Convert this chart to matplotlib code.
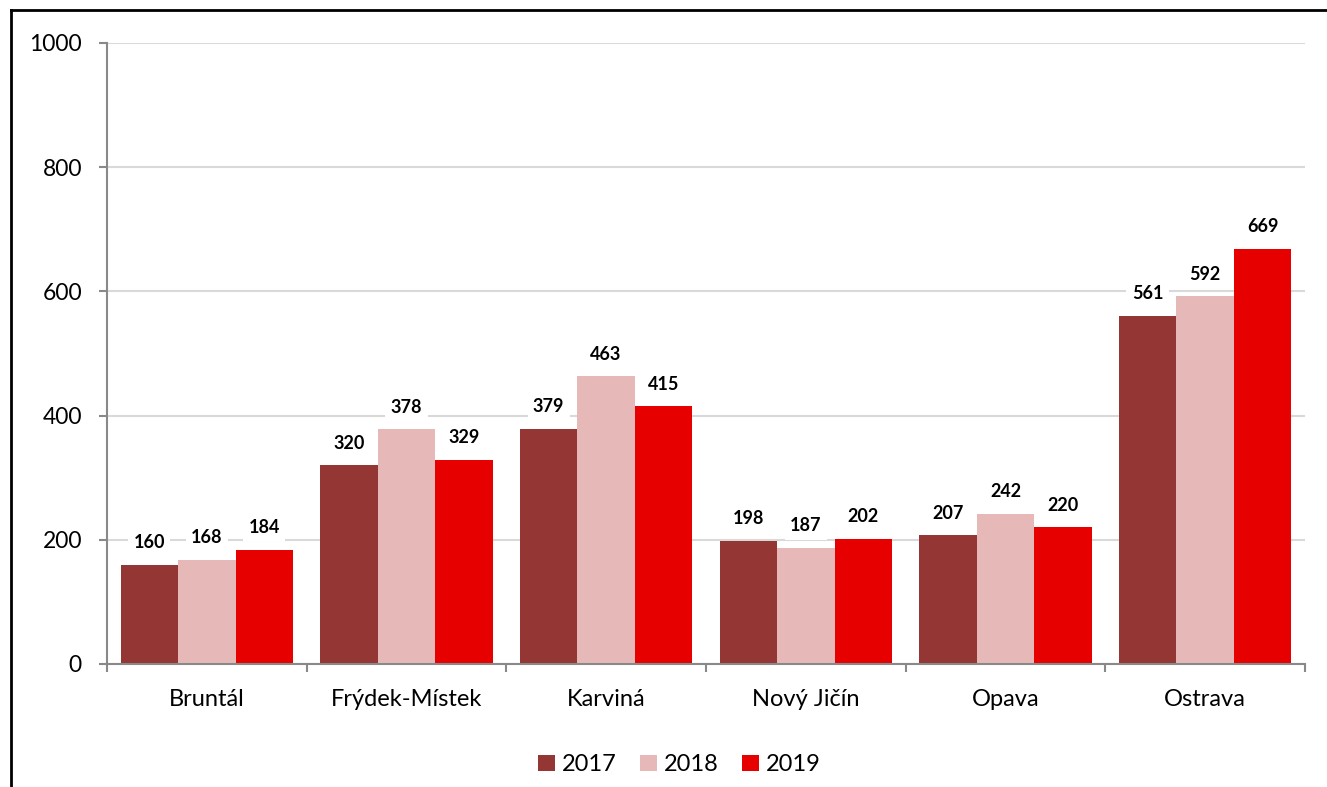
import numpy as np
import matplotlib
matplotlib.use("Agg")
import matplotlib.pyplot as plt
from matplotlib.lines import Line2D

categories = ["Bruntál", "Frýdek-Místek", "Karviná", "Nový Jičín", "Opava", "Ostrava"]
years = ["2017", "2018", "2019"]
v2017 = [160, 320, 379, 198, 207, 561]
v2018 = [168, 378, 463, 187, 242, 592]
v2019 = [184, 329, 415, 202, 220, 669]
colors = ["#943634", "#E6B9B8", "#E60000"]

plt.rcParams['font.family'] = ['Lato', 'DejaVu Sans']

fig = plt.figure(figsize=(13.27, 7.87), dpi=100)
ax = fig.add_axes([0.0806, 0.1563, 0.9028, 0.7891])

x = np.arange(len(categories))
w = 0.288
series = [v2017, v2018, v2019]
for i, (vals, c, yr) in enumerate(zip(series, colors, years)):
    pos = x + (i - 1) * w
    bars = ax.bar(pos, vals, width=w, color=c, label=yr, zorder=2)
    for b, v in zip(bars, vals):
        ax.annotate(str(v), (b.get_x() + b.get_width() / 2, v),
                    xytext=(0, 16), textcoords="offset points",
                    ha="center", va="center", fontsize=13, fontweight="bold",
                    bbox=dict(boxstyle="square,pad=0.3", fc="white", ec="none"),
                    zorder=3)

ax.set_xlim(-0.5, len(categories) - 0.5)
ax.set_ylim(0, 1000)
ax.set_yticks(np.arange(0, 1001, 200))
ax.tick_params(axis="y", labelsize=16.5, length=6, width=1.5, color="#898989", pad=12)
ax.set_xticks(x)
ax.set_xticklabels(categories, fontsize=17)
ax.set_xticks(np.arange(-0.5, len(categories), 1), minor=True)
ax.tick_params(axis="x", which="major", length=0, pad=18)
ax.tick_params(axis="x", which="minor", length=6, width=1.5, color="#898989")
ax.yaxis.grid(True, color="#D9D9D9", linewidth=1.5, zorder=0)
ax.set_axisbelow(True)
for s in ["top", "right"]:
    ax.spines[s].set_visible(False)
for s in ["left", "bottom"]:
    ax.spines[s].set_color("#898989")
    ax.spines[s].set_linewidth(1.5)

ax.legend(loc="center", bbox_to_anchor=(0.512, 0.028), bbox_transform=fig.transFigure,
          ncol=3, frameon=False, fontsize=17, handlelength=0.7, handleheight=0.7,
          handletextpad=0.3, columnspacing=1.0)

# outer frame (left and top only visible)
fig.add_artist(Line2D([0.0083, 0.0083], [0, 0.9876], transform=fig.transFigure,
                      color="black", linewidth=2))
fig.add_artist(Line2D([0.0083, 1], [0.9876, 0.9876], transform=fig.transFigure,
                      color="black", linewidth=2))

fig.savefig("out.png", dpi=100)
